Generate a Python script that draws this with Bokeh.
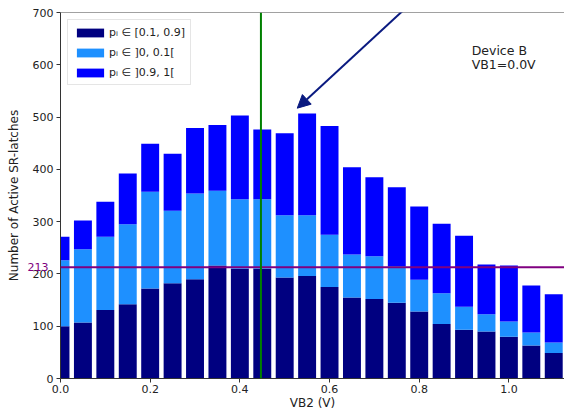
from bokeh.plotting import figure
from bokeh.models import (ColumnDataSource, Span, Label, Arrow, NormalHead,
                          FixedTicker, NumeralTickFormatter, Range1d)
from bokeh.embed import file_html
from bokeh.resources import INLINE

# ---- data ----
vb2 = [0.00, 0.05, 0.10, 0.15, 0.20, 0.25, 0.30, 0.35, 0.40, 0.45, 0.50, 0.55,
       0.60, 0.65, 0.70, 0.75, 0.80, 0.85, 0.90, 0.95, 1.00, 1.05, 1.10, 1.15]
mid = [100, 107, 131, 142, 172, 182, 190, 216, 210, 210, 193, 196,
       175, 155, 152, 145, 128, 104, 93, 90, 80, 63, 49, 35]        # p in [0.1, 0.9]
low = [126, 140, 140, 153, 185, 139, 164, 143, 133, 133, 119, 116,
       100, 82, 82, 70, 61, 59, 44, 33, 29, 25, 20, 17]             # p in ]0, 0.1[
high = [45, 55, 67, 97, 92, 109, 125, 126, 160, 133, 157, 195,
        208, 167, 151, 151, 140, 133, 136, 95, 107, 90, 92, 78]     # p in ]0.9, 1[

labels = ["pᵢ ∈ [0.1, 0.9]", "pᵢ ∈ ]0, 0.1[", "pᵢ ∈ ]0.9, 1["]
colors = ["#000080", "#1e90ff", "#0000ff"]
threshold = 213
vline_x = 0.447
x_ticks = [0.0, 0.2, 0.4, 0.6, 0.8, 1.0]
y_ticks = [0, 100, 200, 300, 400, 500, 600, 700]
device_text = ["Device B", "VB1=0.0V"]

FONT = "DejaVu Sans"

src = ColumnDataSource(dict(x=vb2, mid=mid, low=low, high=high))

p = figure(width=564, height=412, output_backend="svg", toolbar_location=None,
           x_range=Range1d(0, 1.124), y_range=Range1d(0, 700),
           min_border_left=60, min_border_top=12, min_border_right=0,
           min_border_bottom=0)

p.vbar_stack(["mid", "low", "high"], x="x", width=0.04, source=src,
             color=colors, line_color=None, legend_label=labels)

p.add_layout(Span(location=threshold, dimension="width",
                  line_color="#800080", line_width=2))
p.add_layout(Span(location=vline_x, dimension="height",
                  line_color="#008000", line_width=2))
p.add_layout(Span(location=700, dimension="width",
                  line_color="#444444", line_width=1))

# "213" label: placed in a side panel so it is not clipped to the frame
p.add_layout(Label(x=0, y=threshold, x_offset=-12, text=str(threshold),
                   text_align="right", text_baseline="middle",
                   text_color="#800080", text_font=FONT,
                   text_font_size="11px"), "above")

p.add_layout(Label(x=0.917, y=641, text=device_text[0], text_baseline="top",
                   text_font=FONT, text_font_size="12.5px", text_color="#222222"))
p.add_layout(Label(x=0.917, y=614, text=device_text[1], text_baseline="top",
                   text_font=FONT, text_font_size="12.5px", text_color="#222222"))

p.add_layout(Arrow(x_start=0.787, y_start=722, x_end=0.528, y_end=517,
                   line_color="#0a1a80", line_width=2,
                   end=NormalHead(size=13, fill_color="#0a1a80",
                                  line_color="#0a1a80")))

p.grid.visible = False
p.outline_line_color = None

p.xaxis.ticker = FixedTicker(ticks=x_ticks)
p.yaxis.ticker = FixedTicker(ticks=y_ticks)
p.xaxis.formatter = NumeralTickFormatter(format="0.0")
p.xaxis.axis_label = "VB2 (V)"
p.yaxis.axis_label = "Number of Active SR-latches"
for ax in (p.xaxis, p.yaxis):
    ax.minor_tick_line_color = None
    ax.major_tick_in = 0
    ax.major_tick_out = 4
    ax.axis_line_color = "#333333"
    ax.major_tick_line_color = "#333333"
    ax.major_label_text_font = FONT
    ax.major_label_text_font_size = "11px"
    ax.major_label_text_color = "#222222"
    ax.axis_label_text_font = FONT
    ax.axis_label_text_font_size = "12px"
    ax.axis_label_text_font_style = "normal"
    ax.axis_label_text_color = "#222222"
p.yaxis.major_label_standoff = 3
p.yaxis.axis_label_standoff = 9
p.xaxis.major_label_standoff = 2
p.xaxis.axis_label_standoff = 0

lg = p.legend[0]
lg.location = "top_left"
lg.margin = 7
lg.padding = 5
lg.spacing = 6
lg.glyph_width = 34
lg.glyph_height = 11
lg.label_height = 14
lg.label_standoff = 2
lg.label_text_font = FONT
lg.label_text_font_size = "11px"
lg.label_text_color = "#222222"
lg.border_line_color = "#cccccc"
lg.background_fill_alpha = 0.85

open("out.html", "w").write(file_html(p, INLINE))
